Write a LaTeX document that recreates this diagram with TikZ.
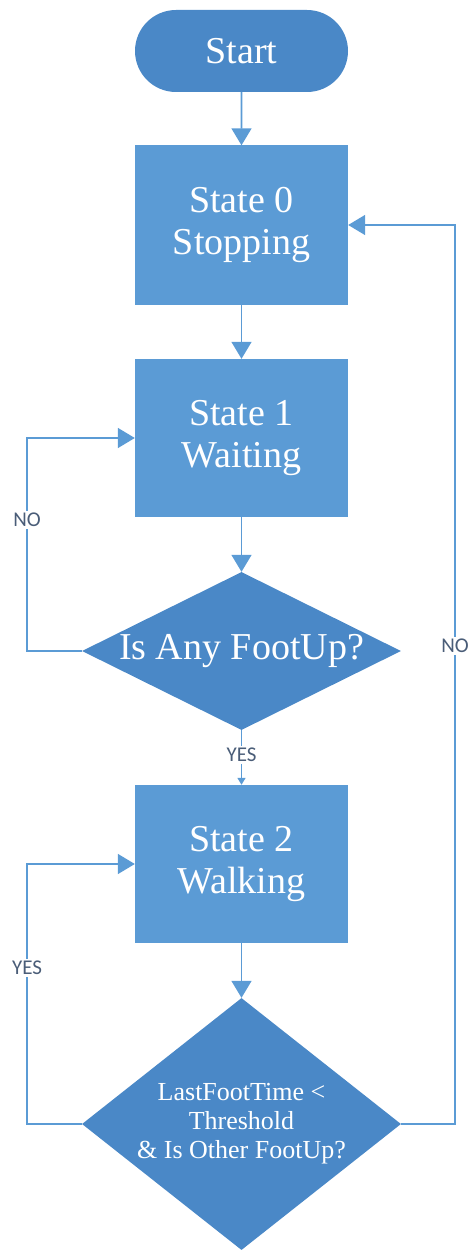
\documentclass[tikz,border=0pt]{standalone}
\usepackage{fontspec}
\setmainfont{Liberation Serif}
\newfontfamily\lblfont{Carlito}
\usepackage{tikz}
\usetikzlibrary{
  arrows.meta, positioning, shapes.geometric, shapes.misc
}
\definecolor{cBOX}{HTML}{5B9BD5}
\definecolor{cDEC}{HTML}{4A88C7}
\definecolor{cLINE}{HTML}{5B9BD5}
\definecolor{cLBL}{HTML}{4A5D78}

\tikzset{
  statebox/.style={rectangle, fill=cBOX, text=white, inner sep=0pt,
    minimum width=213pt, minimum height=158pt, align=center,
    font=\fontsize{38}{42}\selectfont},
  decbox/.style={diamond, fill=cDEC, text=white, inner sep=0pt,
    minimum width=319pt, align=center},
  flow/.style={draw=cLINE, line width=1.6pt,
    -{Triangle[length=17pt,width=20pt]}},
  lbl/.style={fill=white, text=cLBL, inner sep=2pt,
    font=\lblfont\fontsize{21}{23}\selectfont}
}

\begin{document}
\begin{tikzpicture}[x=1pt, y=-1pt]
  \useasboundingbox (0,0) rectangle (468,1252);

  % Start terminal
  \node[rounded rectangle, fill=cDEC, text=white, inner sep=0pt,
    minimum width=213pt, minimum height=82pt,
    font=\fontsize{38}{42}\selectfont] (start) at (241.5,51) {Start};

  % States
  \node[statebox, minimum height=159pt] (s0) at (241.5,225) {State 0\\Stopping};
  \node[statebox] (s1) at (241.5,438) {State 1\\Waiting};
  \node[statebox] (s2) at (241.5,864) {State 2\\Walking};

  % Decisions
  \node[decbox, minimum height=158pt, shape aspect=2.02,
    font=\fontsize{38}{42}\selectfont] (d1) at (241.5,651) {Is Any FootUp?};
  \node[decbox, minimum height=252pt, shape aspect=1.27,
    font=\fontsize{26}{29}\selectfont] (d2) at (241.5,1124)
    {LastFootTime <\\Threshold\\\& Is Other FootUp?};

  % Side rails for the loops
  \coordinate (railL) at (27,0);
  \coordinate (railR) at (455,0);

  % Main flow
  \draw[flow] (start) -- (s0);
  \draw[flow] (s0) -- (s1);
  \draw[flow] (s1) -- (d1);
  \draw[flow, -{Triangle[length=7pt,width=8pt]}] (d1.south) -- node[lbl, pos=0.45] {YES} (s2.north);
  \draw[flow] (s2) -- (d2);

  % Loops back
  \draw[flow] (d1.west) -- (d1.west -| railL)
    -- node[lbl, pos=0.615] {NO} (railL |- s1.west) -- (s1.west);
  \draw[flow] (d2.west) -- (d2.west -| railL)
    -- node[lbl, pos=0.6] {YES} (railL |- s2.west) -- (s2.west);
  \draw[flow] (d2.east) -- (d2.east -| railR)
    -- node[lbl, pos=0.532] {NO} (railR |- s0.east) -- (s0.east);
\end{tikzpicture}
\end{document}
